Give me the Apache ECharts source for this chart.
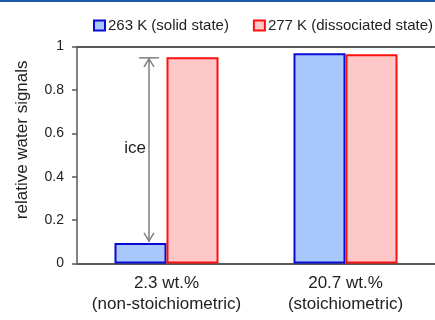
<!DOCTYPE html>
<html>
<head>
<meta charset="utf-8">
<script src="https://cdn.jsdelivr.net/npm/echarts@6/dist/echarts.min.js"></script>
<style>html,body{margin:0;padding:0;background:#fff}#c{width:435px;height:320px}</style>
</head>
<body>
<div id="c"></div>
<script>
const categories = ['2.3 wt.%\n(non-stoichiometric)', '20.7 wt.%\n(stoichiometric)'];
const seriesNames = ['263 K (solid state)', '277 K (dissociated state)'];
const solidValues = [0.095, 0.969];
const dissociatedValues = [0.95, 0.964];
const yTicks = [0, 0.2, 0.4, 0.6, 0.8, 1];
const annotationLabel = 'ice';
const yAxisTitle = 'relative water signals';

const FONT = '"Liberation Sans", Arial, sans-serif';
const AXIS = '#595959';

const chart = echarts.init(document.getElementById('c'), null, {renderer: 'canvas'});
chart.setOption({
  animation: false,
  backgroundColor: '#fff',
  grid: {left: 77, right: -4, top: 46.5, bottom: 56.5, containLabel: false},
  legend: {
    data: seriesNames,
    left: 88, top: 13, width: 345, padding: 5,
    itemWidth: 11, itemHeight: 10, itemGap: 24,
    icon: 'rect',
    textStyle: {fontFamily: FONT, fontSize: 15, color: '#222', padding: [0, 0, 0, -2]}
  },
  xAxis: [{
    type: 'category', data: categories,
    axisLine: {lineStyle: {color: AXIS, width: 2}},
    axisTick: {show: false},
    axisLabel: {interval: 0, hideOverlap: false, fontFamily: FONT, fontSize: 17, color: '#222', lineHeight: 21, margin: 9}
  }, {
    type: 'category', data: categories, position: 'top',
    axisLine: {show: true, lineStyle: {color: AXIS, width: 2}},
    axisTick: {show: false}, axisLabel: {show: false}
  }],
  yAxis: {
    type: 'value', min: yTicks[0], max: yTicks[yTicks.length - 1], interval: 0.2,
    axisLine: {show: true, lineStyle: {color: AXIS, width: 1.5}},
    axisTick: {show: true, length: 5, lineStyle: {color: AXIS, width: 1.5}},
    splitLine: {show: false},
    axisLabel: {fontFamily: FONT, fontSize: 14, color: '#222', margin: 13,
      formatter: v => String(v)}
  },
  series: [{
    name: seriesNames[0], type: 'bar', data: solidValues,
    barWidth: 52, barGap: '0%',
    itemStyle: {color: '#a8c8fb', borderColor: '#0a0ad8', borderWidth: 2}
  }, {
    name: seriesNames[1], type: 'bar', data: dissociatedValues,
    barWidth: 52, barGap: '0%',
    itemStyle: {color: '#ffc8c8', borderColor: '#ff1010', borderWidth: 2}
  }]
});

// annotation: double arrow between blue bar top and red bar top in the first group
const cTop = chart.convertToPixel({xAxisIndex: 0, yAxisIndex: 0}, [0, dissociatedValues[0]]);
const cBot = chart.convertToPixel({xAxisIndex: 0, yAxisIndex: 0}, [0, solidValues[0]]);
const ax = cTop[0] - 17.5;
const yT = cTop[1] + 0.5, yB = cBot[1] - 1;
const gray = '#7f7f7f';
const ls = {stroke: gray, lineWidth: 1.5, fill: null};
const yNameCenter = chart.convertToPixel({yAxisIndex: 0}, 0.57);
chart.setOption({
  graphic: [
    {type: 'rect', shape: {x: 0, y: 0, width: 435, height: 2}, style: {fill: '#1b5ca8'}},
    {type: 'line', shape: {x1: ax, y1: yT, x2: ax, y2: yB}, style: ls},
    {type: 'line', shape: {x1: ax - 10, y1: yT, x2: ax + 10, y2: yT}, style: ls},
    {type: 'polyline', shape: {points: [[ax - 5, yT + 9], [ax, yT + 1], [ax + 5, yT + 9]]}, style: ls},
    {type: 'polyline', shape: {points: [[ax - 5, yB - 9], [ax, yB - 1], [ax + 5, yB - 9]]}, style: ls},
    {type: 'text', x: ax - 3, y: (yT + yB) / 2 - 2, style: {text: annotationLabel, align: 'right', verticalAlign: 'middle',
      font: '17px ' + FONT, fill: '#222'}},
    {type: 'text', x: 22, y: yNameCenter, rotation: Math.PI / 2,
      style: {text: yAxisTitle, align: 'center', verticalAlign: 'middle', font: '17px ' + FONT, fill: '#222'}}
  ]
});
</script>
</body>
</html>
